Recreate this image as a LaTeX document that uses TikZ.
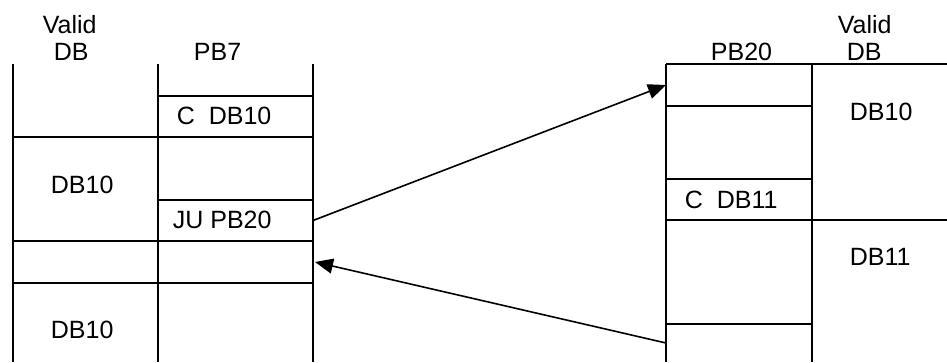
\documentclass[tikz,border=0pt]{standalone}
\usepackage{fontspec}
\setmainfont{Liberation Sans}
\usetikzlibrary{arrows.meta}
\begin{document}
\begin{tikzpicture}[x=1pt,y=-1pt,line width=1.8pt,
  lbl/.style={font=\fontsize{25}{28}\selectfont,inner sep=0pt,anchor=base west},
  cell/.style={inner sep=0pt,outer sep=0pt,draw=none,rectangle},
  arr/.style={-{Triangle[length=18pt,width=15pt]},line width=1.6pt}]
\useasboundingbox (0,0) rectangle (947,362);
% left tables
\draw (13,64) -- (13,362);
\draw (158,64) -- (158,362);
\draw (313,64) -- (313,362);
\draw (158,96) -- (313,96);
\draw (13,137) -- (313,137);
\draw (158,200) -- (313,200);
\draw (13,241) -- (313,241);
\draw (13,283) -- (313,283);
% right tables
\draw (666,64) -- (666,362);
\draw (812,64) -- (812,362);
\draw (666,64) -- (947,64);
\draw (666,106) -- (812,106);
\draw (666,179) -- (812,179);
\draw (666,220) -- (947,220);
\draw (666,324) -- (812,324);
% cells used by connectors
\node[cell,minimum width=155pt,minimum height=41pt] (ju) at (235.5,220.5) {};
\node[cell,minimum width=155pt,minimum height=42pt] (ret) at (235.5,262) {};
\node[cell,minimum width=146pt,minimum height=42pt] (pbtop) at (739,85) {};
\node[cell,minimum width=146pt,minimum height=38pt] (pbend) at (739,343) {};
% labels
\node[lbl] (v1) at (42,33) {Valid};
\node[lbl] (d1) at (53,60) {DB};
\node[lbl] (h1) at (193,60) {PB7};
\node[lbl] (c1) at (176,124) {C\ \ DB10};
\node[lbl] (l1) at (50,193) {DB10};
\node[lbl] (j1) at (172,228) {JU PB20};
\node[lbl] (l2) at (50,338) {DB10};
\node[lbl] (h2) at (710,60) {PB20};
\node[lbl] (v2) at (837,33) {Valid};
\node[lbl] (d2) at (846,60) {DB};
\node[lbl] (r1) at (849,120) {DB10};
\node[lbl] (c2) at (684,208) {C\ \ DB11};
\node[lbl] (r2) at (849,265) {DB11};
% connectors
\draw[arr] (ju.east) -- (pbtop.west);
\draw[arr] (pbend.west) -- ([xshift=2pt]ret.east);
\end{tikzpicture}
\end{document}
